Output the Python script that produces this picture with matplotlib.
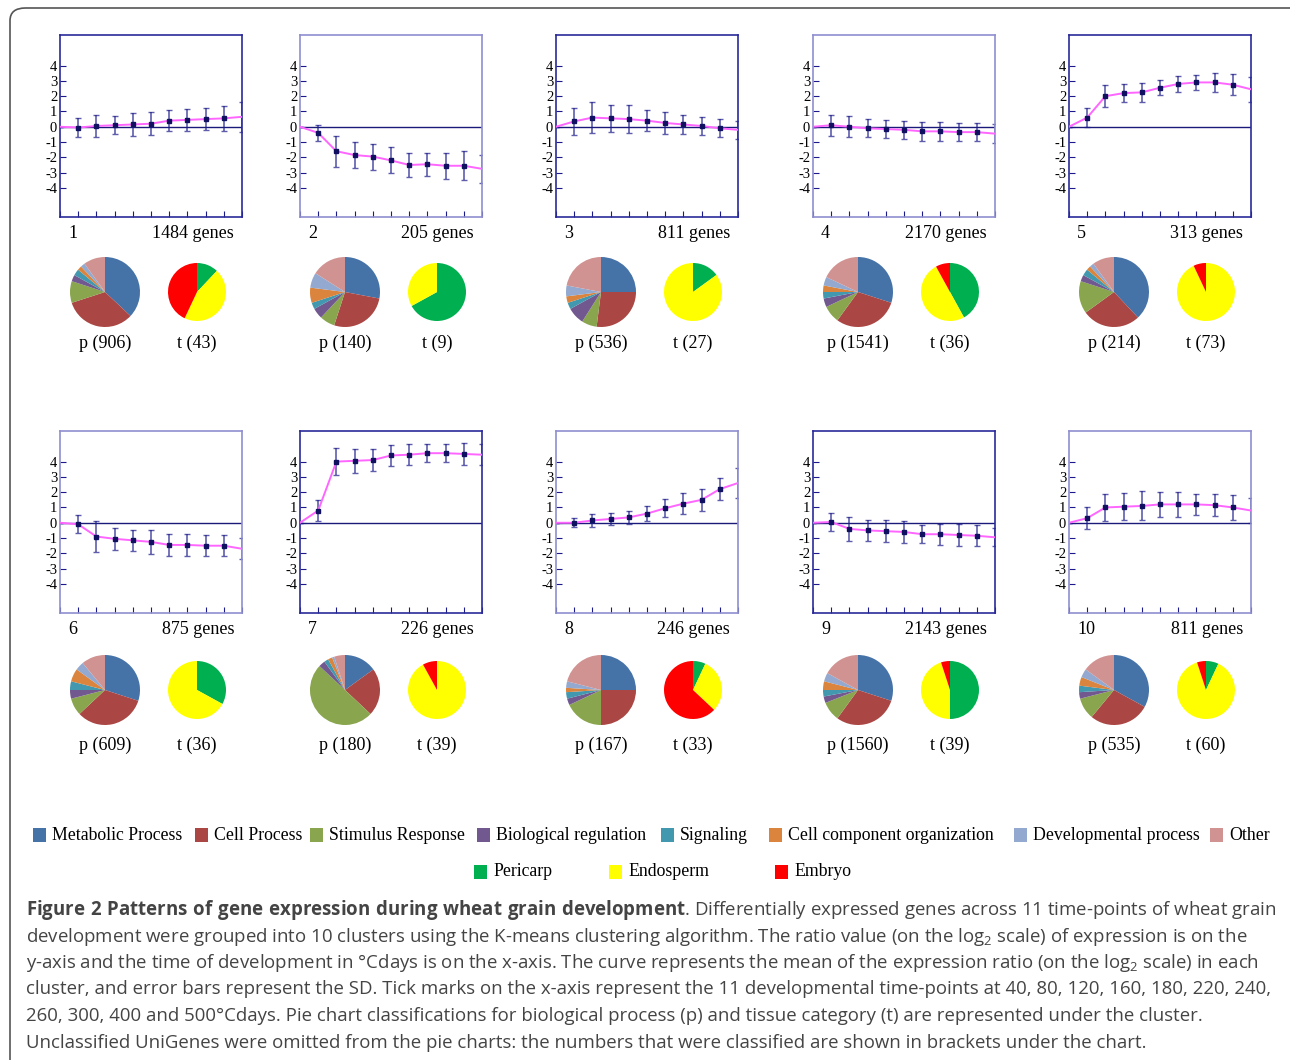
import matplotlib
matplotlib.use("Agg")
import matplotlib.pyplot as plt
from matplotlib.patches import FancyBboxPatch, Rectangle
import numpy as np

W, H = 1290, 1060

# cluster profiles (log2 ratio means and SDs at 11 time-points)
means = [
    [0, -0.05, 0.05, 0.1, 0.15, 0.2, 0.4, 0.45, 0.5, 0.55, 0.65],
    [0, -0.4, -1.6, -1.85, -1.95, -2.2, -2.5, -2.45, -2.55, -2.55, -2.75],
    [0, 0.35, 0.6, 0.55, 0.5, 0.4, 0.25, 0.15, 0.05, -0.1, -0.2],
    [0, 0.1, 0.0, -0.1, -0.15, -0.2, -0.3, -0.3, -0.35, -0.35, -0.45],
    [0, 0.6, 2.0, 2.2, 2.25, 2.55, 2.8, 2.9, 2.9, 2.75, 2.45],
    [0, -0.1, -0.9, -1.05, -1.15, -1.25, -1.45, -1.45, -1.5, -1.5, -1.7],
    [0, 0.8, 4.0, 4.05, 4.1, 4.4, 4.45, 4.55, 4.55, 4.5, 4.45],
    [0, 0.0, 0.15, 0.25, 0.35, 0.6, 0.95, 1.25, 1.5, 2.2, 2.6],
    [0, 0.05, -0.4, -0.5, -0.55, -0.6, -0.75, -0.75, -0.8, -0.85, -0.95],
    [0, 0.3, 1.0, 1.05, 1.1, 1.2, 1.2, 1.2, 1.15, 1.0, 0.8],
]
sds = [
    [0, 0.6, 0.7, 0.6, 0.75, 0.75, 0.7, 0.7, 0.7, 0.8, 1.0],
    [0, 0.5, 1.0, 0.85, 0.85, 0.85, 0.8, 0.75, 0.85, 0.95, 0.9],
    [0, 0.9, 1.0, 0.9, 0.9, 0.7, 0.7, 0.6, 0.6, 0.6, 0.6],
    [0, 0.7, 0.7, 0.6, 0.6, 0.6, 0.6, 0.6, 0.6, 0.6, 0.6],
    [0, 0.6, 0.7, 0.6, 0.6, 0.5, 0.5, 0.5, 0.6, 0.7, 0.8],
    [0, 0.6, 1.0, 0.7, 0.7, 0.8, 0.7, 0.7, 0.7, 0.7, 0.7],
    [0, 0.7, 0.9, 0.8, 0.7, 0.7, 0.7, 0.6, 0.6, 0.7, 0.7],
    [0, 0.3, 0.4, 0.4, 0.4, 0.5, 0.6, 0.7, 0.7, 0.7, 1.0],
    [0, 0.6, 0.8, 0.7, 0.7, 0.7, 0.6, 0.7, 0.7, 0.7, 0.6],
    [0, 0.7, 0.9, 0.9, 0.95, 0.8, 0.8, 0.7, 0.7, 0.8, 0.8],
]
gene_counts = [1484, 205, 811, 2170, 313, 875, 226, 246, 2143, 811]
p_counts = [906, 140, 536, 1541, 214, 609, 180, 167, 1560, 535]
t_counts = [43, 9, 27, 36, 73, 36, 39, 33, 39, 60]

process_names = ["Metabolic Process", "Cell Process", "Stimulus Response", "Biological regulation",
                 "Signaling", "Cell component organization", "Developmental process", "Other"]
process_colors = ["#4572A7", "#AA4643", "#89A54E", "#71588F", "#4198AF", "#DB843D", "#93A9CF", "#D19392"]
process_frac = [
    [0.37, 0.33, 0.10, 0.03, 0.03, 0.02, 0.02, 0.10],
    [0.28, 0.27, 0.07, 0.05, 0.03, 0.07, 0.07, 0.16],
    [0.25, 0.27, 0.07, 0.08, 0.03, 0.03, 0.05, 0.22],
    [0.30, 0.30, 0.08, 0.04, 0.03, 0.03, 0.04, 0.18],
    [0.38, 0.27, 0.15, 0.03, 0.03, 0.02, 0.02, 0.10],
    [0.30, 0.33, 0.08, 0.04, 0.04, 0.06, 0.04, 0.11],
    [0.15, 0.22, 0.50, 0.03, 0.02, 0.02, 0.01, 0.05],
    [0.25, 0.25, 0.18, 0.03, 0.03, 0.02, 0.03, 0.21],
    [0.30, 0.30, 0.09, 0.03, 0.03, 0.04, 0.04, 0.17],
    [0.33, 0.28, 0.10, 0.03, 0.03, 0.04, 0.04, 0.15],
]
tissue_names = ["Pericarp", "Endosperm", "Embryo"]
tissue_colors = ["#00B050", "#FFFF00", "#FF0000"]
tissue_frac = [
    [0.12, 0.45, 0.43], [0.67, 0.33, 0.0], [0.15, 0.85, 0.0], [0.42, 0.50, 0.08],
    [0.0, 0.93, 0.07], [0.33, 0.67, 0.0], [0.0, 0.92, 0.08], [0.07, 0.30, 0.63],
    [0.50, 0.45, 0.05], [0.07, 0.88, 0.05],
]

SERIF = "Liberation Serif"
plt.rcParams["mathtext.fontset"] = "custom"
plt.rcParams["mathtext.bf"] = "Open Sans:bold"
plt.rcParams["mathtext.rm"] = "Open Sans"
fig = plt.figure(figsize=(W / 100, H / 100), dpi=100)


def rect(x0, y0, x1, y1):
    return [x0 / W, 1 - y1 / H, (x1 - x0) / W, (y1 - y0) / H]


# rounded border
fig.patches.append(FancyBboxPatch((10 / W, -20 / H), 1.2, (H - 8 + 20) / H, transform=fig.transFigure,
                                  boxstyle="round,pad=0,rounding_size=0.012", fc="none", ec="#555555", lw=1.2))

col_x = [60, 300, 556, 813, 1069]
row_y = [35, 431]
pie_dy = [257, 259]
lab_dy = [308, 314]
pw, ph = 182, 182
for i in range(10):
    r, c = divmod(i, 5)
    x0, y0 = col_x[c], row_y[r]
    ax = fig.add_axes(rect(x0, y0, x0 + pw, y0 + ph))
    x = np.arange(11)
    ax.axhline(0, color="#1a1a7a", lw=1)
    ax.errorbar(x, means[i], yerr=sds[i], fmt="none", ecolor="#1a1a8a", alpha=0.7, elinewidth=1.2, capsize=2.5)
    ax.plot(x, means[i], color="#ff66ff", lw=1.4, zorder=3)
    ax.plot(x[1:10], means[i][1:10], "s", color="#101060", ms=2.5, zorder=4)
    ax.set_xlim(0, 10)
    ax.set_ylim(-5.9, 6.0)
    ax.set_yticks(range(-4, 5))
    ax.set_yticklabels([str(v) for v in range(-4, 5)], fontsize=10.5, family=SERIF)
    ax.set_xticks(x)
    ax.set_xticklabels([])
    ax.tick_params(direction="in", length=4, color="#1a1a8a", pad=2)
    for s in ax.spines.values():
        s.set_color("#2a2a9a" if i % 2 == 0 else "#8f8fcf")
        s.set_linewidth(1.2)
    fig.text((x0 + 8) / W, 1 - (y0 + ph + 16) / H, str(i + 1), fontsize=13, family=SERIF, va="center")
    fig.text((x0 + pw - 8) / W, 1 - (y0 + ph + 16) / H, f"{gene_counts[i]} genes", fontsize=13,
             family=SERIF, va="center", ha="right")

    # pies
    pcx, tcx = x0 + 45, x0 + 137
    cy = y0 + pie_dy[r]
    pa = fig.add_axes(rect(pcx - 35, cy - 35, pcx + 35, cy + 35))
    pa.pie(process_frac[i], colors=process_colors, startangle=90, counterclock=False, radius=1.0)
    pa.set_xlim(-1, 1); pa.set_ylim(-1, 1)
    pa.set_aspect("equal")
    ta = fig.add_axes(rect(tcx - 29, cy - 29, tcx + 29, cy + 29))
    ta.pie([v if v > 0 else 1e-9 for v in tissue_frac[i]], colors=tissue_colors, startangle=90,
           counterclock=False)
    ta.set_xlim(-1, 1); ta.set_ylim(-1, 1)
    ta.set_aspect("equal")
    ly = y0 + lab_dy[r]
    fig.text(pcx / W, 1 - ly / H, f"p ({p_counts[i]})", fontsize=13, family=SERIF, ha="center", va="center")
    fig.text(tcx / W, 1 - ly / H, f"t ({t_counts[i]})", fontsize=13, family=SERIF, ha="center", va="center")

# legends
leg_x = [33, 195, 310, 477, 661, 769, 1014, 1210]
for name, col, lx in zip(process_names, process_colors, leg_x):
    fig.patches.append(Rectangle((lx / W, 1 - 842 / H), 13 / W, 14 / H, transform=fig.transFigure,
                                 fc=col, ec="none"))
    fig.text((lx + 19) / W, 1 - 835 / H, name, fontsize=12.8, family=SERIF, va="center")
for name, col, lx in zip(tissue_names, tissue_colors, [474, 609, 775]):
    fig.patches.append(Rectangle((lx / W, 1 - 879 / H), 13 / W, 14 / H, transform=fig.transFigure,
                                 fc=col, ec="none"))
    fig.text((lx + 19) / W, 1 - 872 / H, name, fontsize=12.8, family=SERIF, va="center")

# caption
cap = [
    r"$\bf{Figure\ 2\ Patterns\ of\ gene\ expression\ during\ wheat\ grain\ development}$. Differentially expressed genes across 11 time-points of wheat grain",
    "development were grouped into 10 clusters using the K-means clustering algorithm. The ratio value (on the log$_2$ scale) of expression is on the",
    "y-axis and the time of development in °Cdays is on the x-axis. The curve represents the mean of the expression ratio (on the log$_2$ scale) in each",
    "cluster, and error bars represent the SD. Tick marks on the x-axis represent the 11 developmental time-points at 40, 80, 120, 160, 180, 220, 240,",
    "260, 300, 400 and 500°Cdays. Pie chart classifications for biological process (p) and tissue category (t) are represented under the cluster.",
    "Unclassified UniGenes were omitted from the pie charts: the numbers that were classified are shown in brackets under the chart.",
]
for k, line in enumerate(cap):
    fig.text(26 / W, 1 - (910 + k * 26.5) / H, line, fontsize=13.4, family="Open Sans", color="#444444",
             va="center")

fig.savefig("out.png", dpi=100)
